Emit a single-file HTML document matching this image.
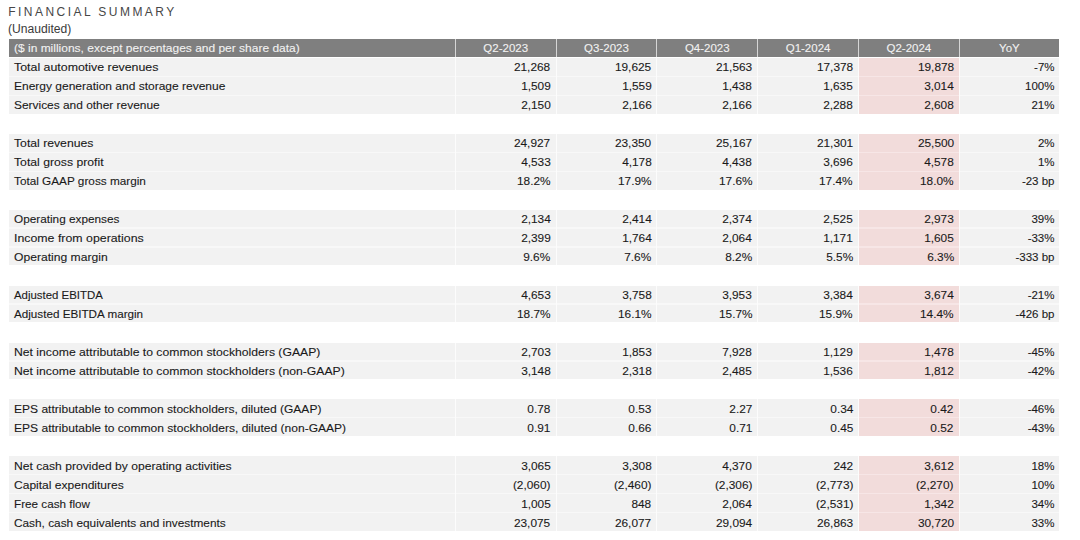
<!DOCTYPE html>
<html><head><meta charset="utf-8"><style>
html,body{margin:0;padding:0;background:#fff;width:1080px;height:540px;overflow:hidden}
body{position:relative;font-family:"Liberation Sans",sans-serif}
.c{position:absolute}
.t{position:absolute;white-space:nowrap;font-size:11.5px;line-height:18px;color:#1a1a1a;-webkit-text-stroke:0.1px #1a1a1a}
.h{color:#f2f2f2;-webkit-text-stroke:0.1px #f2f2f2;font-size:11.5px}
.title{position:absolute;left:8.3px;top:3px;font-size:12px;letter-spacing:2.45px;color:#474747;line-height:18px;white-space:nowrap}
.sub{position:absolute;left:8.4px;top:20px;font-size:12px;color:#3a3a3a;transform:scaleX(1.01);transform-origin:0 0;line-height:18px;white-space:nowrap}
</style></head><body>
<div class="title">FINANCIAL SUMMARY</div>
<div class="sub">(Unaudited)</div>
<div class="c" style="left:9.00px;width:1050.00px;top:39.00px;height:18.00px;background:#d6d6d6"></div>
<div class="c" style="left:9.00px;width:445.80px;top:39.00px;height:18.00px;background:#7f7f7f"></div>
<div class="c" style="left:455.80px;width:99.80px;top:39.00px;height:18.00px;background:#7f7f7f"></div>
<div class="c" style="left:556.60px;width:99.80px;top:39.00px;height:18.00px;background:#7f7f7f"></div>
<div class="c" style="left:657.40px;width:99.80px;top:39.00px;height:18.00px;background:#7f7f7f"></div>
<div class="c" style="left:758.20px;width:99.80px;top:39.00px;height:18.00px;background:#7f7f7f"></div>
<div class="c" style="left:859.00px;width:99.80px;top:39.00px;height:18.00px;background:#7f7f7f"></div>
<div class="c" style="left:959.80px;width:99.20px;top:39.00px;height:18.00px;background:#7f7f7f"></div>
<div class="t h" style="left:14.2px;top:39px;transform:scaleX(1.0418);transform-origin:0 0">($ in millions, except percentages and per share data)</div>
<div class="t h" style="left:455.80px;width:99.80px;top:39.00px;text-align:center">Q2-2023</div>
<div class="t h" style="left:556.60px;width:99.80px;top:39.00px;text-align:center">Q3-2023</div>
<div class="t h" style="left:657.40px;width:99.80px;top:39.00px;text-align:center">Q4-2023</div>
<div class="t h" style="left:758.20px;width:99.80px;top:39.00px;text-align:center">Q1-2024</div>
<div class="t h" style="left:859.00px;width:99.80px;top:39.00px;text-align:center">Q2-2024</div>
<div class="t h" style="left:959.80px;width:99.20px;top:39.00px;text-align:center">YoY</div>
<div class="c" style="left:9.00px;width:1050.00px;top:58.30px;height:55.40px;background:#f8f8f8"></div>
<div class="c" style="left:858.50px;width:100.80px;top:58.30px;height:55.40px;background:#f7e6e6"></div>
<div class="c" style="left:454.80px;width:1px;top:58.30px;height:55.40px;background:#fcfcfc"></div>
<div class="c" style="left:555.60px;width:1px;top:58.30px;height:55.40px;background:#fcfcfc"></div>
<div class="c" style="left:656.40px;width:1px;top:58.30px;height:55.40px;background:#fcfcfc"></div>
<div class="c" style="left:757.20px;width:1px;top:58.30px;height:55.40px;background:#fcfcfc"></div>
<div class="c" style="left:858.00px;width:1px;top:58.30px;height:55.40px;background:#fcfcfc"></div>
<div class="c" style="left:958.80px;width:1px;top:58.30px;height:55.40px;background:#fcfcfc"></div>
<div class="c" style="left:9.00px;width:1050.00px;top:134.10px;height:55.40px;background:#f8f8f8"></div>
<div class="c" style="left:858.50px;width:100.80px;top:134.10px;height:55.40px;background:#f7e6e6"></div>
<div class="c" style="left:454.80px;width:1px;top:134.10px;height:55.40px;background:#fcfcfc"></div>
<div class="c" style="left:555.60px;width:1px;top:134.10px;height:55.40px;background:#fcfcfc"></div>
<div class="c" style="left:656.40px;width:1px;top:134.10px;height:55.40px;background:#fcfcfc"></div>
<div class="c" style="left:757.20px;width:1px;top:134.10px;height:55.40px;background:#fcfcfc"></div>
<div class="c" style="left:858.00px;width:1px;top:134.10px;height:55.40px;background:#fcfcfc"></div>
<div class="c" style="left:958.80px;width:1px;top:134.10px;height:55.40px;background:#fcfcfc"></div>
<div class="c" style="left:9.00px;width:1050.00px;top:209.90px;height:55.40px;background:#f8f8f8"></div>
<div class="c" style="left:858.50px;width:100.80px;top:209.90px;height:55.40px;background:#f7e6e6"></div>
<div class="c" style="left:454.80px;width:1px;top:209.90px;height:55.40px;background:#fcfcfc"></div>
<div class="c" style="left:555.60px;width:1px;top:209.90px;height:55.40px;background:#fcfcfc"></div>
<div class="c" style="left:656.40px;width:1px;top:209.90px;height:55.40px;background:#fcfcfc"></div>
<div class="c" style="left:757.20px;width:1px;top:209.90px;height:55.40px;background:#fcfcfc"></div>
<div class="c" style="left:858.00px;width:1px;top:209.90px;height:55.40px;background:#fcfcfc"></div>
<div class="c" style="left:958.80px;width:1px;top:209.90px;height:55.40px;background:#fcfcfc"></div>
<div class="c" style="left:9.00px;width:1050.00px;top:285.70px;height:36.45px;background:#f8f8f8"></div>
<div class="c" style="left:858.50px;width:100.80px;top:285.70px;height:36.45px;background:#f7e6e6"></div>
<div class="c" style="left:454.80px;width:1px;top:285.70px;height:36.45px;background:#fcfcfc"></div>
<div class="c" style="left:555.60px;width:1px;top:285.70px;height:36.45px;background:#fcfcfc"></div>
<div class="c" style="left:656.40px;width:1px;top:285.70px;height:36.45px;background:#fcfcfc"></div>
<div class="c" style="left:757.20px;width:1px;top:285.70px;height:36.45px;background:#fcfcfc"></div>
<div class="c" style="left:858.00px;width:1px;top:285.70px;height:36.45px;background:#fcfcfc"></div>
<div class="c" style="left:958.80px;width:1px;top:285.70px;height:36.45px;background:#fcfcfc"></div>
<div class="c" style="left:9.00px;width:1050.00px;top:342.55px;height:36.45px;background:#f8f8f8"></div>
<div class="c" style="left:858.50px;width:100.80px;top:342.55px;height:36.45px;background:#f7e6e6"></div>
<div class="c" style="left:454.80px;width:1px;top:342.55px;height:36.45px;background:#fcfcfc"></div>
<div class="c" style="left:555.60px;width:1px;top:342.55px;height:36.45px;background:#fcfcfc"></div>
<div class="c" style="left:656.40px;width:1px;top:342.55px;height:36.45px;background:#fcfcfc"></div>
<div class="c" style="left:757.20px;width:1px;top:342.55px;height:36.45px;background:#fcfcfc"></div>
<div class="c" style="left:858.00px;width:1px;top:342.55px;height:36.45px;background:#fcfcfc"></div>
<div class="c" style="left:958.80px;width:1px;top:342.55px;height:36.45px;background:#fcfcfc"></div>
<div class="c" style="left:9.00px;width:1050.00px;top:399.40px;height:36.45px;background:#f8f8f8"></div>
<div class="c" style="left:858.50px;width:100.80px;top:399.40px;height:36.45px;background:#f7e6e6"></div>
<div class="c" style="left:454.80px;width:1px;top:399.40px;height:36.45px;background:#fcfcfc"></div>
<div class="c" style="left:555.60px;width:1px;top:399.40px;height:36.45px;background:#fcfcfc"></div>
<div class="c" style="left:656.40px;width:1px;top:399.40px;height:36.45px;background:#fcfcfc"></div>
<div class="c" style="left:757.20px;width:1px;top:399.40px;height:36.45px;background:#fcfcfc"></div>
<div class="c" style="left:858.00px;width:1px;top:399.40px;height:36.45px;background:#fcfcfc"></div>
<div class="c" style="left:958.80px;width:1px;top:399.40px;height:36.45px;background:#fcfcfc"></div>
<div class="c" style="left:9.00px;width:1050.00px;top:456.25px;height:74.35px;background:#f8f8f8"></div>
<div class="c" style="left:858.50px;width:100.80px;top:456.25px;height:74.35px;background:#f7e6e6"></div>
<div class="c" style="left:454.80px;width:1px;top:456.25px;height:74.35px;background:#fcfcfc"></div>
<div class="c" style="left:555.60px;width:1px;top:456.25px;height:74.35px;background:#fcfcfc"></div>
<div class="c" style="left:656.40px;width:1px;top:456.25px;height:74.35px;background:#fcfcfc"></div>
<div class="c" style="left:757.20px;width:1px;top:456.25px;height:74.35px;background:#fcfcfc"></div>
<div class="c" style="left:858.00px;width:1px;top:456.25px;height:74.35px;background:#fcfcfc"></div>
<div class="c" style="left:958.80px;width:1px;top:456.25px;height:74.35px;background:#fcfcfc"></div>
<div class="c" style="left:9.00px;width:445.80px;top:58.30px;height:17.50px;background:#f2f2f2"></div>
<div class="c" style="left:455.80px;width:99.80px;top:58.30px;height:17.50px;background:#f2f2f2"></div>
<div class="c" style="left:556.60px;width:99.80px;top:58.30px;height:17.50px;background:#f2f2f2"></div>
<div class="c" style="left:657.40px;width:99.80px;top:58.30px;height:17.50px;background:#f2f2f2"></div>
<div class="c" style="left:758.20px;width:99.80px;top:58.30px;height:17.50px;background:#f2f2f2"></div>
<div class="c" style="left:859.00px;width:99.80px;top:58.30px;height:17.50px;background:#f2dcdb"></div>
<div class="c" style="left:959.80px;width:99.20px;top:58.30px;height:17.50px;background:#f2f2f2"></div>
<div class="t r" style="left:14.0px;top:58px;transform:scaleX(1.0758);transform-origin:0 0">Total automotive revenues</div>
<div class="t r" style="right:529.40px;top:58px;transform:scaleX(1.03);transform-origin:100% 0">21,268</div>
<div class="t r" style="right:428.60px;top:58px;transform:scaleX(1.03);transform-origin:100% 0">19,625</div>
<div class="t r" style="right:327.80px;top:58px;transform:scaleX(1.03);transform-origin:100% 0">21,563</div>
<div class="t r" style="right:227.00px;top:58px;transform:scaleX(1.03);transform-origin:100% 0">17,378</div>
<div class="t r" style="right:126.20px;top:58px;transform:scaleX(1.03);transform-origin:100% 0">19,878</div>
<div class="t r" style="right:25.50px;top:58.00px;text-align:right">-7%</div>
<div class="c" style="left:9.00px;width:445.80px;top:77.25px;height:17.50px;background:#f2f2f2"></div>
<div class="c" style="left:455.80px;width:99.80px;top:77.25px;height:17.50px;background:#f2f2f2"></div>
<div class="c" style="left:556.60px;width:99.80px;top:77.25px;height:17.50px;background:#f2f2f2"></div>
<div class="c" style="left:657.40px;width:99.80px;top:77.25px;height:17.50px;background:#f2f2f2"></div>
<div class="c" style="left:758.20px;width:99.80px;top:77.25px;height:17.50px;background:#f2f2f2"></div>
<div class="c" style="left:859.00px;width:99.80px;top:77.25px;height:17.50px;background:#f2dcdb"></div>
<div class="c" style="left:959.80px;width:99.20px;top:77.25px;height:17.50px;background:#f2f2f2"></div>
<div class="t r" style="left:14.0px;top:77px;transform:scaleX(1.0430);transform-origin:0 0">Energy generation and storage revenue</div>
<div class="t r" style="right:529.40px;top:77px;transform:scaleX(1.03);transform-origin:100% 0">1,509</div>
<div class="t r" style="right:428.60px;top:77px;transform:scaleX(1.03);transform-origin:100% 0">1,559</div>
<div class="t r" style="right:327.80px;top:77px;transform:scaleX(1.03);transform-origin:100% 0">1,438</div>
<div class="t r" style="right:227.00px;top:77px;transform:scaleX(1.03);transform-origin:100% 0">1,635</div>
<div class="t r" style="right:126.20px;top:77px;transform:scaleX(1.03);transform-origin:100% 0">3,014</div>
<div class="t r" style="right:25.50px;top:77.00px;text-align:right">100%</div>
<div class="c" style="left:9.00px;width:445.80px;top:96.20px;height:17.50px;background:#f2f2f2"></div>
<div class="c" style="left:455.80px;width:99.80px;top:96.20px;height:17.50px;background:#f2f2f2"></div>
<div class="c" style="left:556.60px;width:99.80px;top:96.20px;height:17.50px;background:#f2f2f2"></div>
<div class="c" style="left:657.40px;width:99.80px;top:96.20px;height:17.50px;background:#f2f2f2"></div>
<div class="c" style="left:758.20px;width:99.80px;top:96.20px;height:17.50px;background:#f2f2f2"></div>
<div class="c" style="left:859.00px;width:99.80px;top:96.20px;height:17.50px;background:#f2dcdb"></div>
<div class="c" style="left:959.80px;width:99.20px;top:96.20px;height:17.50px;background:#f2f2f2"></div>
<div class="t r" style="left:14.0px;top:96px;transform:scaleX(1.0356);transform-origin:0 0">Services and other revenue</div>
<div class="t r" style="right:529.40px;top:96px;transform:scaleX(1.03);transform-origin:100% 0">2,150</div>
<div class="t r" style="right:428.60px;top:96px;transform:scaleX(1.03);transform-origin:100% 0">2,166</div>
<div class="t r" style="right:327.80px;top:96px;transform:scaleX(1.03);transform-origin:100% 0">2,166</div>
<div class="t r" style="right:227.00px;top:96px;transform:scaleX(1.03);transform-origin:100% 0">2,288</div>
<div class="t r" style="right:126.20px;top:96px;transform:scaleX(1.03);transform-origin:100% 0">2,608</div>
<div class="t r" style="right:25.50px;top:96.00px;text-align:right">21%</div>
<div class="c" style="left:9.00px;width:445.80px;top:134.10px;height:17.50px;background:#f2f2f2"></div>
<div class="c" style="left:455.80px;width:99.80px;top:134.10px;height:17.50px;background:#f2f2f2"></div>
<div class="c" style="left:556.60px;width:99.80px;top:134.10px;height:17.50px;background:#f2f2f2"></div>
<div class="c" style="left:657.40px;width:99.80px;top:134.10px;height:17.50px;background:#f2f2f2"></div>
<div class="c" style="left:758.20px;width:99.80px;top:134.10px;height:17.50px;background:#f2f2f2"></div>
<div class="c" style="left:859.00px;width:99.80px;top:134.10px;height:17.50px;background:#f2dcdb"></div>
<div class="c" style="left:959.80px;width:99.20px;top:134.10px;height:17.50px;background:#f2f2f2"></div>
<div class="t r" style="left:14.0px;top:134px;transform:scaleX(1.0611);transform-origin:0 0">Total revenues</div>
<div class="t r" style="right:529.40px;top:134px;transform:scaleX(1.03);transform-origin:100% 0">24,927</div>
<div class="t r" style="right:428.60px;top:134px;transform:scaleX(1.03);transform-origin:100% 0">23,350</div>
<div class="t r" style="right:327.80px;top:134px;transform:scaleX(1.03);transform-origin:100% 0">25,167</div>
<div class="t r" style="right:227.00px;top:134px;transform:scaleX(1.03);transform-origin:100% 0">21,301</div>
<div class="t r" style="right:126.20px;top:134px;transform:scaleX(1.03);transform-origin:100% 0">25,500</div>
<div class="t r" style="right:25.50px;top:134.00px;text-align:right">2%</div>
<div class="c" style="left:9.00px;width:445.80px;top:153.05px;height:17.50px;background:#f2f2f2"></div>
<div class="c" style="left:455.80px;width:99.80px;top:153.05px;height:17.50px;background:#f2f2f2"></div>
<div class="c" style="left:556.60px;width:99.80px;top:153.05px;height:17.50px;background:#f2f2f2"></div>
<div class="c" style="left:657.40px;width:99.80px;top:153.05px;height:17.50px;background:#f2f2f2"></div>
<div class="c" style="left:758.20px;width:99.80px;top:153.05px;height:17.50px;background:#f2f2f2"></div>
<div class="c" style="left:859.00px;width:99.80px;top:153.05px;height:17.50px;background:#f2dcdb"></div>
<div class="c" style="left:959.80px;width:99.20px;top:153.05px;height:17.50px;background:#f2f2f2"></div>
<div class="t r" style="left:14.0px;top:153px;transform:scaleX(1.0613);transform-origin:0 0">Total gross profit</div>
<div class="t r" style="right:529.40px;top:153px;transform:scaleX(1.03);transform-origin:100% 0">4,533</div>
<div class="t r" style="right:428.60px;top:153px;transform:scaleX(1.03);transform-origin:100% 0">4,178</div>
<div class="t r" style="right:327.80px;top:153px;transform:scaleX(1.03);transform-origin:100% 0">4,438</div>
<div class="t r" style="right:227.00px;top:153px;transform:scaleX(1.03);transform-origin:100% 0">3,696</div>
<div class="t r" style="right:126.20px;top:153px;transform:scaleX(1.03);transform-origin:100% 0">4,578</div>
<div class="t r" style="right:25.50px;top:153.00px;text-align:right">1%</div>
<div class="c" style="left:9.00px;width:445.80px;top:172.00px;height:17.50px;background:#f2f2f2"></div>
<div class="c" style="left:455.80px;width:99.80px;top:172.00px;height:17.50px;background:#f2f2f2"></div>
<div class="c" style="left:556.60px;width:99.80px;top:172.00px;height:17.50px;background:#f2f2f2"></div>
<div class="c" style="left:657.40px;width:99.80px;top:172.00px;height:17.50px;background:#f2f2f2"></div>
<div class="c" style="left:758.20px;width:99.80px;top:172.00px;height:17.50px;background:#f2f2f2"></div>
<div class="c" style="left:859.00px;width:99.80px;top:172.00px;height:17.50px;background:#f2dcdb"></div>
<div class="c" style="left:959.80px;width:99.20px;top:172.00px;height:17.50px;background:#f2f2f2"></div>
<div class="t r" style="left:14.0px;top:172px;transform:scaleX(1.0231);transform-origin:0 0">Total GAAP gross margin</div>
<div class="t r" style="right:529.40px;top:172px;transform:scaleX(1.03);transform-origin:100% 0">18.2%</div>
<div class="t r" style="right:428.60px;top:172px;transform:scaleX(1.03);transform-origin:100% 0">17.9%</div>
<div class="t r" style="right:327.80px;top:172px;transform:scaleX(1.03);transform-origin:100% 0">17.6%</div>
<div class="t r" style="right:227.00px;top:172px;transform:scaleX(1.03);transform-origin:100% 0">17.4%</div>
<div class="t r" style="right:126.20px;top:172px;transform:scaleX(1.03);transform-origin:100% 0">18.0%</div>
<div class="t r" style="right:25.50px;top:172.00px;text-align:right">-23 bp</div>
<div class="c" style="left:9.00px;width:445.80px;top:209.90px;height:17.50px;background:#f2f2f2"></div>
<div class="c" style="left:455.80px;width:99.80px;top:209.90px;height:17.50px;background:#f2f2f2"></div>
<div class="c" style="left:556.60px;width:99.80px;top:209.90px;height:17.50px;background:#f2f2f2"></div>
<div class="c" style="left:657.40px;width:99.80px;top:209.90px;height:17.50px;background:#f2f2f2"></div>
<div class="c" style="left:758.20px;width:99.80px;top:209.90px;height:17.50px;background:#f2f2f2"></div>
<div class="c" style="left:859.00px;width:99.80px;top:209.90px;height:17.50px;background:#f2dcdb"></div>
<div class="c" style="left:959.80px;width:99.20px;top:209.90px;height:17.50px;background:#f2f2f2"></div>
<div class="t r" style="left:14.0px;top:210px;transform:scaleX(1.0240);transform-origin:0 0">Operating expenses</div>
<div class="t r" style="right:529.40px;top:210px;transform:scaleX(1.03);transform-origin:100% 0">2,134</div>
<div class="t r" style="right:428.60px;top:210px;transform:scaleX(1.03);transform-origin:100% 0">2,414</div>
<div class="t r" style="right:327.80px;top:210px;transform:scaleX(1.03);transform-origin:100% 0">2,374</div>
<div class="t r" style="right:227.00px;top:210px;transform:scaleX(1.03);transform-origin:100% 0">2,525</div>
<div class="t r" style="right:126.20px;top:210px;transform:scaleX(1.03);transform-origin:100% 0">2,973</div>
<div class="t r" style="right:25.50px;top:210.00px;text-align:right">39%</div>
<div class="c" style="left:9.00px;width:445.80px;top:228.85px;height:17.50px;background:#f2f2f2"></div>
<div class="c" style="left:455.80px;width:99.80px;top:228.85px;height:17.50px;background:#f2f2f2"></div>
<div class="c" style="left:556.60px;width:99.80px;top:228.85px;height:17.50px;background:#f2f2f2"></div>
<div class="c" style="left:657.40px;width:99.80px;top:228.85px;height:17.50px;background:#f2f2f2"></div>
<div class="c" style="left:758.20px;width:99.80px;top:228.85px;height:17.50px;background:#f2f2f2"></div>
<div class="c" style="left:859.00px;width:99.80px;top:228.85px;height:17.50px;background:#f2dcdb"></div>
<div class="c" style="left:959.80px;width:99.20px;top:228.85px;height:17.50px;background:#f2f2f2"></div>
<div class="t r" style="left:14.0px;top:229px;transform:scaleX(1.0735);transform-origin:0 0">Income from operations</div>
<div class="t r" style="right:529.40px;top:229px;transform:scaleX(1.03);transform-origin:100% 0">2,399</div>
<div class="t r" style="right:428.60px;top:229px;transform:scaleX(1.03);transform-origin:100% 0">1,764</div>
<div class="t r" style="right:327.80px;top:229px;transform:scaleX(1.03);transform-origin:100% 0">2,064</div>
<div class="t r" style="right:227.00px;top:229px;transform:scaleX(1.03);transform-origin:100% 0">1,171</div>
<div class="t r" style="right:126.20px;top:229px;transform:scaleX(1.03);transform-origin:100% 0">1,605</div>
<div class="t r" style="right:25.50px;top:229.00px;text-align:right">-33%</div>
<div class="c" style="left:9.00px;width:445.80px;top:247.80px;height:17.50px;background:#f2f2f2"></div>
<div class="c" style="left:455.80px;width:99.80px;top:247.80px;height:17.50px;background:#f2f2f2"></div>
<div class="c" style="left:556.60px;width:99.80px;top:247.80px;height:17.50px;background:#f2f2f2"></div>
<div class="c" style="left:657.40px;width:99.80px;top:247.80px;height:17.50px;background:#f2f2f2"></div>
<div class="c" style="left:758.20px;width:99.80px;top:247.80px;height:17.50px;background:#f2f2f2"></div>
<div class="c" style="left:859.00px;width:99.80px;top:247.80px;height:17.50px;background:#f2dcdb"></div>
<div class="c" style="left:959.80px;width:99.20px;top:247.80px;height:17.50px;background:#f2f2f2"></div>
<div class="t r" style="left:14.0px;top:248px;transform:scaleX(1.0537);transform-origin:0 0">Operating margin</div>
<div class="t r" style="right:529.40px;top:248px;transform:scaleX(1.03);transform-origin:100% 0">9.6%</div>
<div class="t r" style="right:428.60px;top:248px;transform:scaleX(1.03);transform-origin:100% 0">7.6%</div>
<div class="t r" style="right:327.80px;top:248px;transform:scaleX(1.03);transform-origin:100% 0">8.2%</div>
<div class="t r" style="right:227.00px;top:248px;transform:scaleX(1.03);transform-origin:100% 0">5.5%</div>
<div class="t r" style="right:126.20px;top:248px;transform:scaleX(1.03);transform-origin:100% 0">6.3%</div>
<div class="t r" style="right:25.50px;top:248.00px;text-align:right">-333 bp</div>
<div class="c" style="left:9.00px;width:445.80px;top:285.70px;height:17.50px;background:#f2f2f2"></div>
<div class="c" style="left:455.80px;width:99.80px;top:285.70px;height:17.50px;background:#f2f2f2"></div>
<div class="c" style="left:556.60px;width:99.80px;top:285.70px;height:17.50px;background:#f2f2f2"></div>
<div class="c" style="left:657.40px;width:99.80px;top:285.70px;height:17.50px;background:#f2f2f2"></div>
<div class="c" style="left:758.20px;width:99.80px;top:285.70px;height:17.50px;background:#f2f2f2"></div>
<div class="c" style="left:859.00px;width:99.80px;top:285.70px;height:17.50px;background:#f2dcdb"></div>
<div class="c" style="left:959.80px;width:99.20px;top:285.70px;height:17.50px;background:#f2f2f2"></div>
<div class="t r" style="left:14.0px;top:286px;transform:scaleX(0.9919);transform-origin:0 0">Adjusted EBITDA</div>
<div class="t r" style="right:529.40px;top:286px;transform:scaleX(1.03);transform-origin:100% 0">4,653</div>
<div class="t r" style="right:428.60px;top:286px;transform:scaleX(1.03);transform-origin:100% 0">3,758</div>
<div class="t r" style="right:327.80px;top:286px;transform:scaleX(1.03);transform-origin:100% 0">3,953</div>
<div class="t r" style="right:227.00px;top:286px;transform:scaleX(1.03);transform-origin:100% 0">3,384</div>
<div class="t r" style="right:126.20px;top:286px;transform:scaleX(1.03);transform-origin:100% 0">3,674</div>
<div class="t r" style="right:25.50px;top:286.00px;text-align:right">-21%</div>
<div class="c" style="left:9.00px;width:445.80px;top:304.65px;height:17.50px;background:#f2f2f2"></div>
<div class="c" style="left:455.80px;width:99.80px;top:304.65px;height:17.50px;background:#f2f2f2"></div>
<div class="c" style="left:556.60px;width:99.80px;top:304.65px;height:17.50px;background:#f2f2f2"></div>
<div class="c" style="left:657.40px;width:99.80px;top:304.65px;height:17.50px;background:#f2f2f2"></div>
<div class="c" style="left:758.20px;width:99.80px;top:304.65px;height:17.50px;background:#f2f2f2"></div>
<div class="c" style="left:859.00px;width:99.80px;top:304.65px;height:17.50px;background:#f2dcdb"></div>
<div class="c" style="left:959.80px;width:99.20px;top:304.65px;height:17.50px;background:#f2f2f2"></div>
<div class="t r" style="left:14.0px;top:305px;transform:scaleX(1.0150);transform-origin:0 0">Adjusted EBITDA margin</div>
<div class="t r" style="right:529.40px;top:305px;transform:scaleX(1.03);transform-origin:100% 0">18.7%</div>
<div class="t r" style="right:428.60px;top:305px;transform:scaleX(1.03);transform-origin:100% 0">16.1%</div>
<div class="t r" style="right:327.80px;top:305px;transform:scaleX(1.03);transform-origin:100% 0">15.7%</div>
<div class="t r" style="right:227.00px;top:305px;transform:scaleX(1.03);transform-origin:100% 0">15.9%</div>
<div class="t r" style="right:126.20px;top:305px;transform:scaleX(1.03);transform-origin:100% 0">14.4%</div>
<div class="t r" style="right:25.50px;top:305.00px;text-align:right">-426 bp</div>
<div class="c" style="left:9.00px;width:445.80px;top:342.55px;height:17.50px;background:#f2f2f2"></div>
<div class="c" style="left:455.80px;width:99.80px;top:342.55px;height:17.50px;background:#f2f2f2"></div>
<div class="c" style="left:556.60px;width:99.80px;top:342.55px;height:17.50px;background:#f2f2f2"></div>
<div class="c" style="left:657.40px;width:99.80px;top:342.55px;height:17.50px;background:#f2f2f2"></div>
<div class="c" style="left:758.20px;width:99.80px;top:342.55px;height:17.50px;background:#f2f2f2"></div>
<div class="c" style="left:859.00px;width:99.80px;top:342.55px;height:17.50px;background:#f2dcdb"></div>
<div class="c" style="left:959.80px;width:99.20px;top:342.55px;height:17.50px;background:#f2f2f2"></div>
<div class="t r" style="left:14.0px;top:343px;transform:scaleX(1.0605);transform-origin:0 0">Net income attributable to common stockholders (GAAP)</div>
<div class="t r" style="right:529.40px;top:343px;transform:scaleX(1.03);transform-origin:100% 0">2,703</div>
<div class="t r" style="right:428.60px;top:343px;transform:scaleX(1.03);transform-origin:100% 0">1,853</div>
<div class="t r" style="right:327.80px;top:343px;transform:scaleX(1.03);transform-origin:100% 0">7,928</div>
<div class="t r" style="right:227.00px;top:343px;transform:scaleX(1.03);transform-origin:100% 0">1,129</div>
<div class="t r" style="right:126.20px;top:343px;transform:scaleX(1.03);transform-origin:100% 0">1,478</div>
<div class="t r" style="right:25.50px;top:343.00px;text-align:right">-45%</div>
<div class="c" style="left:9.00px;width:445.80px;top:361.50px;height:17.50px;background:#f2f2f2"></div>
<div class="c" style="left:455.80px;width:99.80px;top:361.50px;height:17.50px;background:#f2f2f2"></div>
<div class="c" style="left:556.60px;width:99.80px;top:361.50px;height:17.50px;background:#f2f2f2"></div>
<div class="c" style="left:657.40px;width:99.80px;top:361.50px;height:17.50px;background:#f2f2f2"></div>
<div class="c" style="left:758.20px;width:99.80px;top:361.50px;height:17.50px;background:#f2f2f2"></div>
<div class="c" style="left:859.00px;width:99.80px;top:361.50px;height:17.50px;background:#f2dcdb"></div>
<div class="c" style="left:959.80px;width:99.20px;top:361.50px;height:17.50px;background:#f2f2f2"></div>
<div class="t r" style="left:14.0px;top:362px;transform:scaleX(1.0605);transform-origin:0 0">Net income attributable to common stockholders (non-GAAP)</div>
<div class="t r" style="right:529.40px;top:362px;transform:scaleX(1.03);transform-origin:100% 0">3,148</div>
<div class="t r" style="right:428.60px;top:362px;transform:scaleX(1.03);transform-origin:100% 0">2,318</div>
<div class="t r" style="right:327.80px;top:362px;transform:scaleX(1.03);transform-origin:100% 0">2,485</div>
<div class="t r" style="right:227.00px;top:362px;transform:scaleX(1.03);transform-origin:100% 0">1,536</div>
<div class="t r" style="right:126.20px;top:362px;transform:scaleX(1.03);transform-origin:100% 0">1,812</div>
<div class="t r" style="right:25.50px;top:362.00px;text-align:right">-42%</div>
<div class="c" style="left:9.00px;width:445.80px;top:399.40px;height:17.50px;background:#f2f2f2"></div>
<div class="c" style="left:455.80px;width:99.80px;top:399.40px;height:17.50px;background:#f2f2f2"></div>
<div class="c" style="left:556.60px;width:99.80px;top:399.40px;height:17.50px;background:#f2f2f2"></div>
<div class="c" style="left:657.40px;width:99.80px;top:399.40px;height:17.50px;background:#f2f2f2"></div>
<div class="c" style="left:758.20px;width:99.80px;top:399.40px;height:17.50px;background:#f2f2f2"></div>
<div class="c" style="left:859.00px;width:99.80px;top:399.40px;height:17.50px;background:#f2dcdb"></div>
<div class="c" style="left:959.80px;width:99.20px;top:399.40px;height:17.50px;background:#f2f2f2"></div>
<div class="t r" style="left:14.0px;top:400px;transform:scaleX(1.0455);transform-origin:0 0">EPS attributable to common stockholders, diluted (GAAP)</div>
<div class="t r" style="right:529.40px;top:400px;transform:scaleX(1.03);transform-origin:100% 0">0.78</div>
<div class="t r" style="right:428.60px;top:400px;transform:scaleX(1.03);transform-origin:100% 0">0.53</div>
<div class="t r" style="right:327.80px;top:400px;transform:scaleX(1.03);transform-origin:100% 0">2.27</div>
<div class="t r" style="right:227.00px;top:400px;transform:scaleX(1.03);transform-origin:100% 0">0.34</div>
<div class="t r" style="right:126.20px;top:400px;transform:scaleX(1.03);transform-origin:100% 0">0.42</div>
<div class="t r" style="right:25.50px;top:400.00px;text-align:right">-46%</div>
<div class="c" style="left:9.00px;width:445.80px;top:418.35px;height:17.50px;background:#f2f2f2"></div>
<div class="c" style="left:455.80px;width:99.80px;top:418.35px;height:17.50px;background:#f2f2f2"></div>
<div class="c" style="left:556.60px;width:99.80px;top:418.35px;height:17.50px;background:#f2f2f2"></div>
<div class="c" style="left:657.40px;width:99.80px;top:418.35px;height:17.50px;background:#f2f2f2"></div>
<div class="c" style="left:758.20px;width:99.80px;top:418.35px;height:17.50px;background:#f2f2f2"></div>
<div class="c" style="left:859.00px;width:99.80px;top:418.35px;height:17.50px;background:#f2dcdb"></div>
<div class="c" style="left:959.80px;width:99.20px;top:418.35px;height:17.50px;background:#f2f2f2"></div>
<div class="t r" style="left:14.0px;top:419px;transform:scaleX(1.0476);transform-origin:0 0">EPS attributable to common stockholders, diluted (non-GAAP)</div>
<div class="t r" style="right:529.40px;top:419px;transform:scaleX(1.03);transform-origin:100% 0">0.91</div>
<div class="t r" style="right:428.60px;top:419px;transform:scaleX(1.03);transform-origin:100% 0">0.66</div>
<div class="t r" style="right:327.80px;top:419px;transform:scaleX(1.03);transform-origin:100% 0">0.71</div>
<div class="t r" style="right:227.00px;top:419px;transform:scaleX(1.03);transform-origin:100% 0">0.45</div>
<div class="t r" style="right:126.20px;top:419px;transform:scaleX(1.03);transform-origin:100% 0">0.52</div>
<div class="t r" style="right:25.50px;top:419.00px;text-align:right">-43%</div>
<div class="c" style="left:9.00px;width:445.80px;top:456.25px;height:17.50px;background:#f2f2f2"></div>
<div class="c" style="left:455.80px;width:99.80px;top:456.25px;height:17.50px;background:#f2f2f2"></div>
<div class="c" style="left:556.60px;width:99.80px;top:456.25px;height:17.50px;background:#f2f2f2"></div>
<div class="c" style="left:657.40px;width:99.80px;top:456.25px;height:17.50px;background:#f2f2f2"></div>
<div class="c" style="left:758.20px;width:99.80px;top:456.25px;height:17.50px;background:#f2f2f2"></div>
<div class="c" style="left:859.00px;width:99.80px;top:456.25px;height:17.50px;background:#f2dcdb"></div>
<div class="c" style="left:959.80px;width:99.20px;top:456.25px;height:17.50px;background:#f2f2f2"></div>
<div class="t r" style="left:14.0px;top:457px;transform:scaleX(1.0542);transform-origin:0 0">Net cash provided by operating activities</div>
<div class="t r" style="right:529.40px;top:457px;transform:scaleX(1.03);transform-origin:100% 0">3,065</div>
<div class="t r" style="right:428.60px;top:457px;transform:scaleX(1.03);transform-origin:100% 0">3,308</div>
<div class="t r" style="right:327.80px;top:457px;transform:scaleX(1.03);transform-origin:100% 0">4,370</div>
<div class="t r" style="right:227.00px;top:457px;transform:scaleX(1.03);transform-origin:100% 0">242</div>
<div class="t r" style="right:126.20px;top:457px;transform:scaleX(1.03);transform-origin:100% 0">3,612</div>
<div class="t r" style="right:25.50px;top:457.00px;text-align:right">18%</div>
<div class="c" style="left:9.00px;width:445.80px;top:475.20px;height:17.50px;background:#f2f2f2"></div>
<div class="c" style="left:455.80px;width:99.80px;top:475.20px;height:17.50px;background:#f2f2f2"></div>
<div class="c" style="left:556.60px;width:99.80px;top:475.20px;height:17.50px;background:#f2f2f2"></div>
<div class="c" style="left:657.40px;width:99.80px;top:475.20px;height:17.50px;background:#f2f2f2"></div>
<div class="c" style="left:758.20px;width:99.80px;top:475.20px;height:17.50px;background:#f2f2f2"></div>
<div class="c" style="left:859.00px;width:99.80px;top:475.20px;height:17.50px;background:#f2dcdb"></div>
<div class="c" style="left:959.80px;width:99.20px;top:475.20px;height:17.50px;background:#f2f2f2"></div>
<div class="t r" style="left:14.0px;top:476px;transform:scaleX(1.0473);transform-origin:0 0">Capital expenditures</div>
<div class="t r" style="right:529.40px;top:476px;transform:scaleX(1.03);transform-origin:100% 0">(2,060)</div>
<div class="t r" style="right:428.60px;top:476px;transform:scaleX(1.03);transform-origin:100% 0">(2,460)</div>
<div class="t r" style="right:327.80px;top:476px;transform:scaleX(1.03);transform-origin:100% 0">(2,306)</div>
<div class="t r" style="right:227.00px;top:476px;transform:scaleX(1.03);transform-origin:100% 0">(2,773)</div>
<div class="t r" style="right:126.20px;top:476px;transform:scaleX(1.03);transform-origin:100% 0">(2,270)</div>
<div class="t r" style="right:25.50px;top:476.00px;text-align:right">10%</div>
<div class="c" style="left:9.00px;width:445.80px;top:494.15px;height:17.50px;background:#f2f2f2"></div>
<div class="c" style="left:455.80px;width:99.80px;top:494.15px;height:17.50px;background:#f2f2f2"></div>
<div class="c" style="left:556.60px;width:99.80px;top:494.15px;height:17.50px;background:#f2f2f2"></div>
<div class="c" style="left:657.40px;width:99.80px;top:494.15px;height:17.50px;background:#f2f2f2"></div>
<div class="c" style="left:758.20px;width:99.80px;top:494.15px;height:17.50px;background:#f2f2f2"></div>
<div class="c" style="left:859.00px;width:99.80px;top:494.15px;height:17.50px;background:#f2dcdb"></div>
<div class="c" style="left:959.80px;width:99.20px;top:494.15px;height:17.50px;background:#f2f2f2"></div>
<div class="t r" style="left:14.0px;top:495px;transform:scaleX(1.0167);transform-origin:0 0">Free cash flow</div>
<div class="t r" style="right:529.40px;top:495px;transform:scaleX(1.03);transform-origin:100% 0">1,005</div>
<div class="t r" style="right:428.60px;top:495px;transform:scaleX(1.03);transform-origin:100% 0">848</div>
<div class="t r" style="right:327.80px;top:495px;transform:scaleX(1.03);transform-origin:100% 0">2,064</div>
<div class="t r" style="right:227.00px;top:495px;transform:scaleX(1.03);transform-origin:100% 0">(2,531)</div>
<div class="t r" style="right:126.20px;top:495px;transform:scaleX(1.03);transform-origin:100% 0">1,342</div>
<div class="t r" style="right:25.50px;top:495.00px;text-align:right">34%</div>
<div class="c" style="left:9.00px;width:445.80px;top:513.10px;height:17.50px;background:#f2f2f2"></div>
<div class="c" style="left:455.80px;width:99.80px;top:513.10px;height:17.50px;background:#f2f2f2"></div>
<div class="c" style="left:556.60px;width:99.80px;top:513.10px;height:17.50px;background:#f2f2f2"></div>
<div class="c" style="left:657.40px;width:99.80px;top:513.10px;height:17.50px;background:#f2f2f2"></div>
<div class="c" style="left:758.20px;width:99.80px;top:513.10px;height:17.50px;background:#f2f2f2"></div>
<div class="c" style="left:859.00px;width:99.80px;top:513.10px;height:17.50px;background:#f2dcdb"></div>
<div class="c" style="left:959.80px;width:99.20px;top:513.10px;height:17.50px;background:#f2f2f2"></div>
<div class="t r" style="left:14.0px;top:514px;transform:scaleX(1.0284);transform-origin:0 0">Cash, cash equivalents and investments</div>
<div class="t r" style="right:529.40px;top:514px;transform:scaleX(1.03);transform-origin:100% 0">23,075</div>
<div class="t r" style="right:428.60px;top:514px;transform:scaleX(1.03);transform-origin:100% 0">26,077</div>
<div class="t r" style="right:327.80px;top:514px;transform:scaleX(1.03);transform-origin:100% 0">29,094</div>
<div class="t r" style="right:227.00px;top:514px;transform:scaleX(1.03);transform-origin:100% 0">26,863</div>
<div class="t r" style="right:126.20px;top:514px;transform:scaleX(1.03);transform-origin:100% 0">30,720</div>
<div class="t r" style="right:25.50px;top:514.00px;text-align:right">33%</div>
</body></html>
